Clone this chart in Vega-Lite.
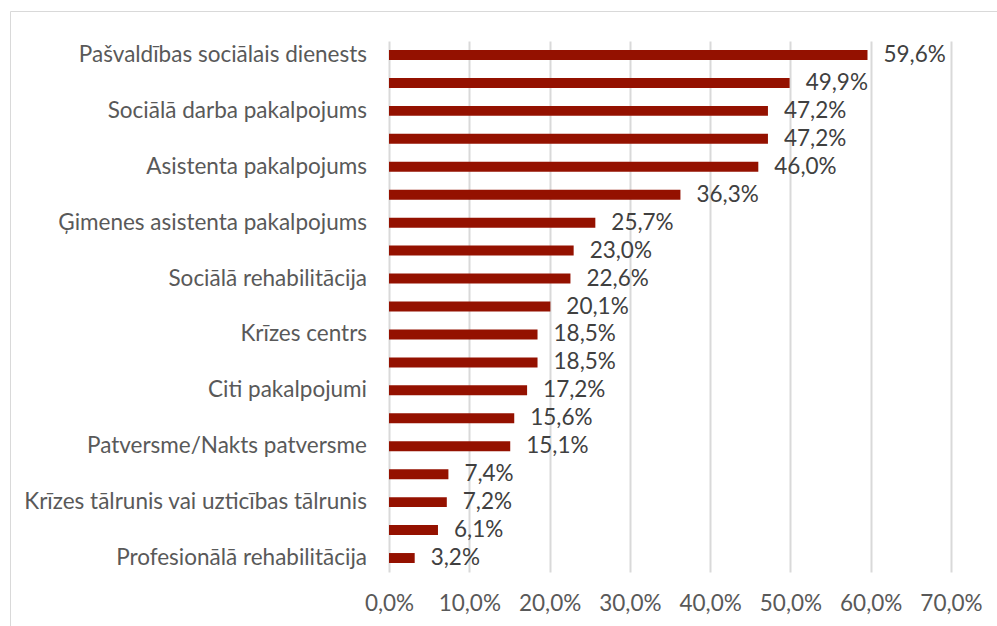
{
  "$schema": "https://vega.github.io/schema/vega-lite/v6.json",
  "width": 990,
  "height": 618,
  "autosize": {"type": "none"},
  "padding": {"left": 10, "top": 11, "right": -3, "bottom": -3},
  "background": "white",
  "config": {
    "locale": {"number": {"decimal": ",", "thousands": " ", "grouping": [3], "currency": ["", " €"]}},
    "view": {"stroke": "#d9d9d9", "strokeWidth": 1},
    "font": "Lato"
  },
  "data": {
    "values": [
      {"rank": 1, "category": "Pašvaldības sociālais dienests", "value": 0.596},
      {"rank": 2, "category": "", "value": 0.499},
      {"rank": 3, "category": "Sociālā darba pakalpojums", "value": 0.472},
      {"rank": 4, "category": "", "value": 0.472},
      {"rank": 5, "category": "Asistenta pakalpojums", "value": 0.460},
      {"rank": 6, "category": "", "value": 0.363},
      {"rank": 7, "category": "Ģimenes asistenta pakalpojums", "value": 0.257},
      {"rank": 8, "category": "", "value": 0.230},
      {"rank": 9, "category": "Sociālā rehabilitācija", "value": 0.226},
      {"rank": 10, "category": "", "value": 0.201},
      {"rank": 11, "category": "Krīzes centrs", "value": 0.185},
      {"rank": 12, "category": "", "value": 0.185},
      {"rank": 13, "category": "Citi pakalpojumi", "value": 0.172},
      {"rank": 14, "category": "", "value": 0.156},
      {"rank": 15, "category": "Patversme/Nakts patversme", "value": 0.151},
      {"rank": 16, "category": "", "value": 0.074},
      {"rank": 17, "category": "Krīzes tālrunis vai uzticības tālrunis", "value": 0.072},
      {"rank": 18, "category": "", "value": 0.061},
      {"rank": 19, "category": "Profesionālā rehabilitācija", "value": 0.032}
    ]
  },
  "encoding": {
    "y": {
      "field": "rank",
      "type": "ordinal",
      "axis": null,
      "scale": {"range": [30, 561], "paddingInner": 0.643, "paddingOuter": 0.3215}
    }
  },
  "layer": [
    {
      "mark": {"type": "bar", "color": "#941100"},
      "encoding": {
        "x": {
          "field": "value",
          "type": "quantitative",
          "scale": {"domain": [0, 0.7], "range": [379, 941], "nice": false},
          "axis": {
            "orient": "top",
            "format": ".1%",
            "values": [0, 0.1, 0.2, 0.3, 0.4, 0.5, 0.6, 0.7],
            "domain": false,
            "ticks": false,
            "grid": true,
            "gridColor": "#d9d9d9",
            "gridWidth": 2,
            "labelFont": "Lato",
            "labelFontSize": 22.5,
            "labelColor": "#595959",
            "labelPadding": -592,
            "labelBaseline": "middle",
            "labelOverlap": false,
            "labelFlush": false,
            "labelBound": false,
            "title": null
          }
        }
      }
    },
    {
      "mark": {"type": "text", "align": "left", "baseline": "middle", "dx": 16, "font": "Lato", "fontSize": 22.5, "color": "#404040"},
      "encoding": {
        "x": {"field": "value", "type": "quantitative"},
        "text": {"field": "value", "type": "quantitative", "format": ".1%"}
      }
    },
    {
      "mark": {"type": "text", "align": "right", "baseline": "middle", "dx": -22, "font": "Lato", "fontSize": 22.5, "color": "#595959"},
      "encoding": {
        "x": {"datum": 0, "type": "quantitative"},
        "text": {"field": "category"}
      }
    }
  ]
}
